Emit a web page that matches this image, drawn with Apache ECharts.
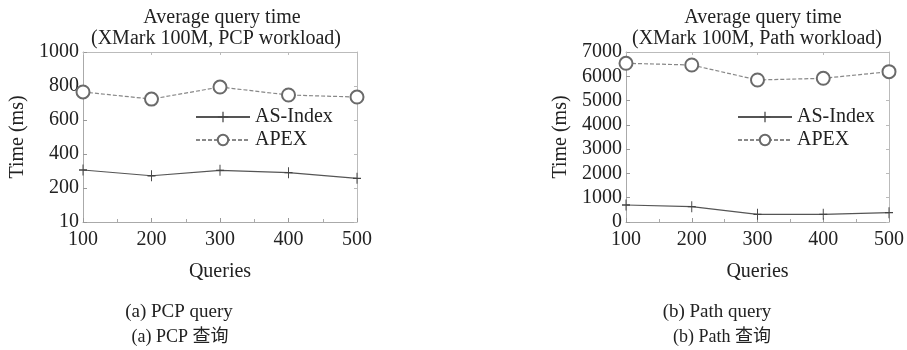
<!DOCTYPE html>
<html><head><meta charset="utf-8">
<script src="https://cdn.jsdelivr.net/npm/echarts@6/dist/echarts.min.js"></script>
<style>html,body{margin:0;padding:0;background:#fff}#c{width:907px;height:350px}</style>
</head><body><div id="c"></div>
<script>
const queries = [100, 200, 300, 400, 500];
const pcpASIndex = [306, 272, 304, 290, 257];
const pcpAPEX = [765, 723, 794, 747, 735];
const pathASIndex = [700, 630, 317, 317, 385];
const pathAPEX = [6535, 6465, 5847, 5917, 6190];
const pcpYTicks = {0: '10', 200: '200', 400: '400', 600: '600', 800: '800', 1000: '1000'};

const FF = '"Liberation Serif", "Noto Sans CJK SC", serif';
const chart = echarts.init(document.getElementById('c'));
const pairs = (xs, ys) => xs.map((x, i) => [x, ys[i]]);

function xAxis(gi) {
  return {
    type: 'value', gridIndex: gi, min: 100, max: 500, interval: 100,
    name: 'Queries', nameLocation: 'middle', nameGap: 40,
    nameTextStyle: {fontFamily: FF, fontSize: 20, color: '#222'},
    axisLine: {onZero: false, lineStyle: {color: '#aaa'}},
    axisTick: {inside: true, length: 4, lineStyle: {color: '#999'}},
    minorTick: {show: true, splitNumber: 2, length: 3, lineStyle: {color: '#aaa'}},
    axisLabel: {fontFamily: FF, fontSize: 20, color: '#222', margin: 8},
    splitLine: {show: false}
  };
}
function xTop(gi) {
  return {type: 'value', gridIndex: gi, min: 100, max: 500, interval: 100, position: 'top',
    axisLine: {onZero: false, lineStyle: {color: '#bbb'}}, axisTick: {inside: true, length: 3, lineStyle: {color: '#bbb'}},
    axisLabel: {show: false}, splitLine: {show: false}};
}
function yAxis(gi, max, interval, fmt) {
  return {
    type: 'value', gridIndex: gi, min: 0, max: max, interval: interval,
    name: 'Time (ms)', nameLocation: 'middle', nameGap: 55, nameRotate: 90,
    nameTextStyle: {fontFamily: FF, fontSize: 20, color: '#222'},
    axisLine: {show: true, onZero: false, lineStyle: {color: '#aaa'}},
    axisTick: {inside: true, length: 4, lineStyle: {color: '#999'}},
    axisLabel: {fontFamily: FF, fontSize: 20, color: '#222', margin: 4, formatter: fmt},
    splitLine: {show: false}
  };
}
function yRight(gi, max, interval) {
  return {type: 'value', gridIndex: gi, min: 0, max: max, interval: interval, position: 'right',
    axisLine: {show: true, onZero: false, lineStyle: {color: '#bbb'}}, axisTick: {inside: true, length: 3, lineStyle: {color: '#bbb'}},
    axisLabel: {show: false}, splitLine: {show: false}};
}
function asSeries(xi, yi, data) {
  return {name: 'AS-Index', type: 'line', xAxisIndex: xi, yAxisIndex: yi, data: data,
    symbol: 'path://M4.4,0 L5.6,0 L5.6,4.4 L10,4.4 L10,5.6 L5.6,5.6 L5.6,10 L4.4,10 L4.4,5.6 L0,5.6 L0,4.4 L4.4,4.4 Z', symbolSize: [8, 11],
    lineStyle: {color: '#555', width: 1.2}, itemStyle: {color: '#444'}};
}
function apexSeries(xi, yi, data) {
  return {name: 'APEX', type: 'line', xAxisIndex: xi, yAxisIndex: yi, data: data,
    symbol: 'emptyCircle', symbolSize: 13,
    lineStyle: {color: '#888', width: 1.2, type: [4, 2]},
    itemStyle: {color: '#6a6a6a', borderColor: '#6a6a6a', borderWidth: 1.6}};
}
function legend(left) {
  return {data: ['AS-Index', 'APEX'], orient: 'vertical', left: left, top: 107, itemWidth: 54, itemHeight: 13, itemGap: 3,
    textStyle: {fontFamily: FF, fontSize: 20, color: '#222', padding: [0, 0, 0, 0]}, padding: 0, selectedMode: false};
}
function titleText(text, x, y, size) {
  return {text: text, left: x, top: y, textAlign: 'center', padding: 0,
    textStyle: {fontFamily: FF, fontSize: size, fontWeight: 'normal', color: '#222'}};
}

chart.setOption({
  animation: false,
  backgroundColor: '#fff',
  title: [
    titleText('Average query time', 222, 8, 20),
    titleText('(XMark 100M, PCP workload)', 216, 29, 20),
    titleText('Average query time', 763, 8, 20),
    titleText('(XMark 100M, Path workload)', 757, 29, 20),
    titleText('(a) PCP query', 179, 303, 19),
    titleText('(a) PCP 查询', 180, 328, 18),
    titleText('(b) Path query', 717, 303, 19),
    titleText('(b) Path 查询', 722, 328, 18)
  ],
  legend: [legend(195), legend(737)],
  grid: [
    {left: 83, right: 550, top: 52, bottom: 128},
    {left: 626, right: 11, top: 52, bottom: 128}
  ],
  xAxis: [xAxis(0), xAxis(1), xTop(0), xTop(1)],
  yAxis: [
    yAxis(0, 1000, 200, v => pcpYTicks[v] !== undefined ? pcpYTicks[v] : ''),
    yAxis(1, 7000, 1000, v => String(v)),
    yRight(0, 1000, 200), yRight(1, 7000, 1000)
  ],
  series: [
    asSeries(0, 0, pairs(queries, pcpASIndex)),
    apexSeries(0, 0, pairs(queries, pcpAPEX)),
    asSeries(1, 1, pairs(queries, pathASIndex)),
    apexSeries(1, 1, pairs(queries, pathAPEX))
  ]
});
</script></body></html>
